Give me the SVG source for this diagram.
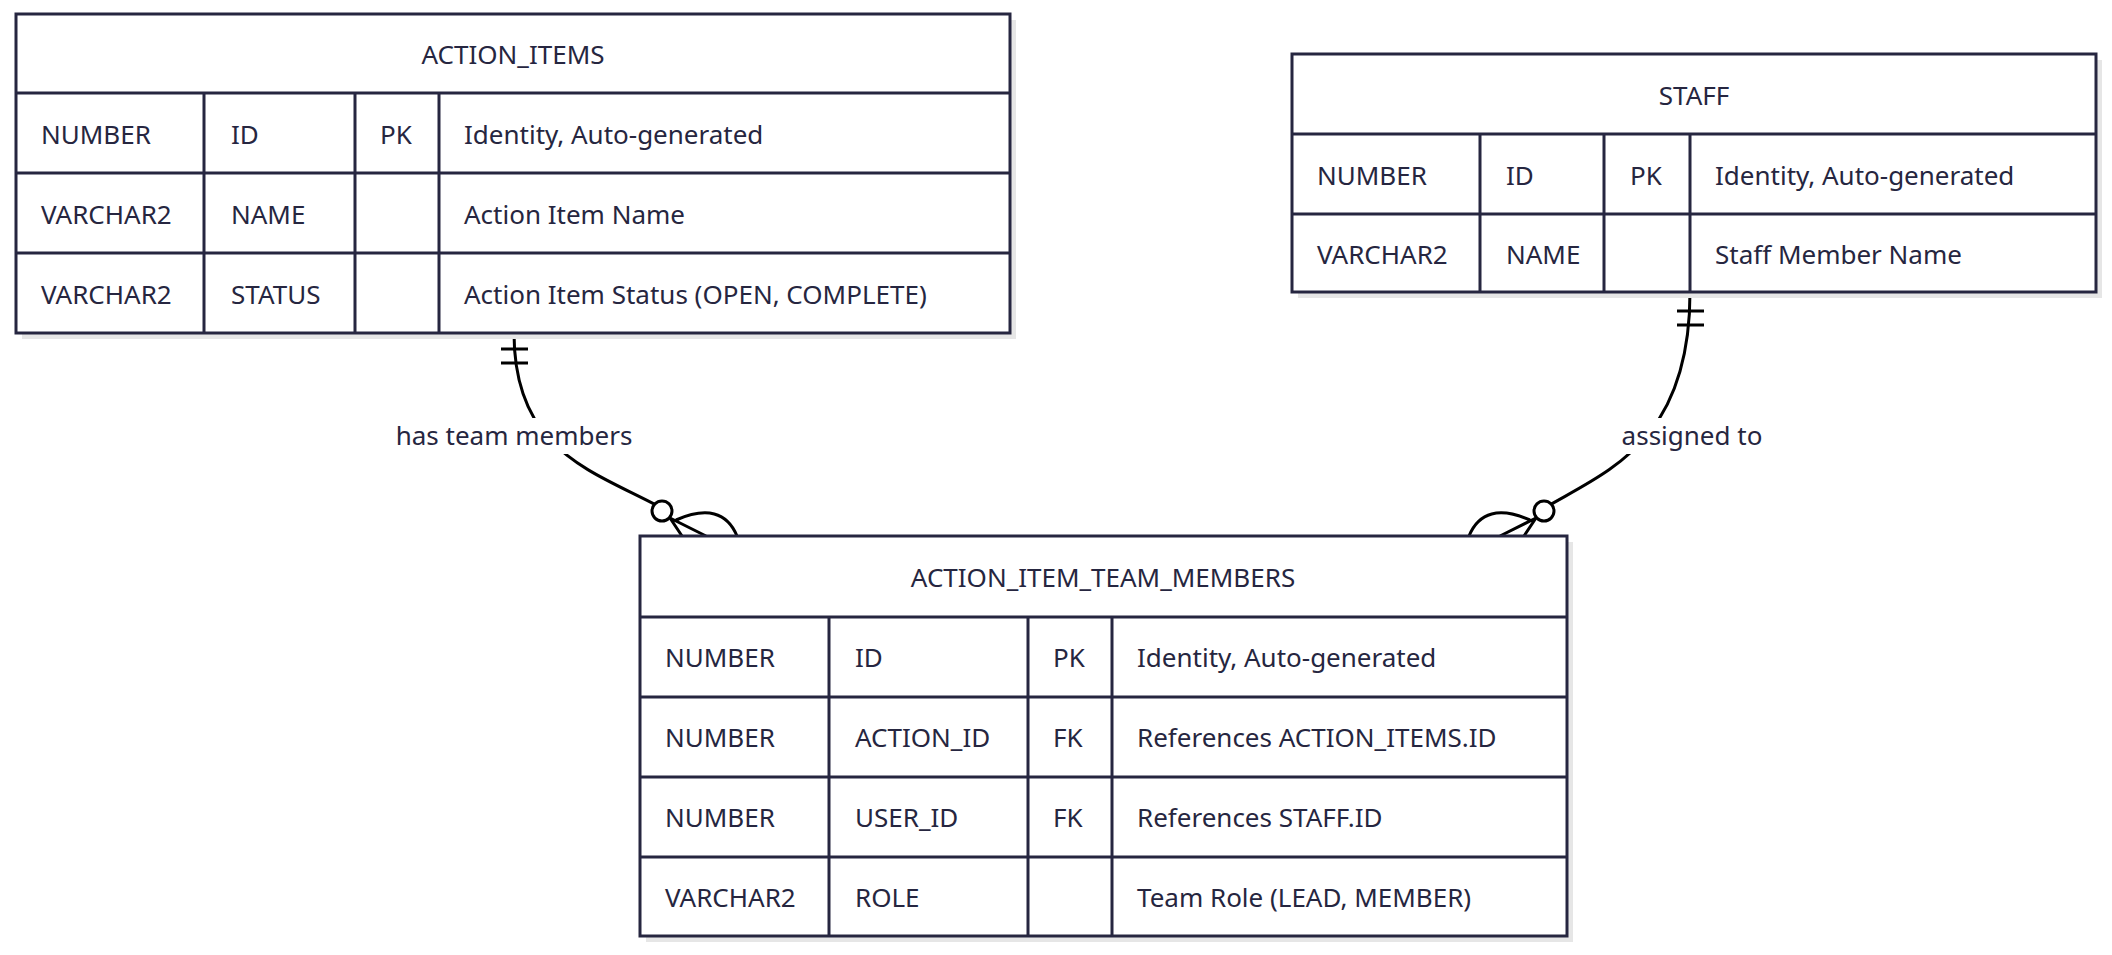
<svg xmlns="http://www.w3.org/2000/svg" width="2112" height="955" viewBox="0 0 2112 955">
<style>
.sh{fill:#e6e6e6}
.bx{fill:#fff;stroke:#262640;stroke-width:3}
.ln{stroke:#262640;stroke-width:3}
text{font-family:"Noto Sans","DejaVu Sans",sans-serif;font-size:26px;fill:#262640;dominant-baseline:central}
.h{text-anchor:middle}
.c{fill:none;stroke:#000;stroke-width:3}
.lb{text-anchor:middle}
</style>
<rect width="2112" height="955" fill="#fff"/>
<g id="connectors">
<path class="c" d="M514 333 C514 450 590 470 658 506"/>
<path class="c" d="M501 349 H528 M501 363 H528"/>
<circle cx="662" cy="511" r="10" fill="#fff" stroke="#000" stroke-width="3"/>
<path class="c" d="M670 518 L682 536 M670 518 L706 536 M676 520 Q722 500 737 536"/>
<rect x="378" y="418" width="272" height="36" fill="#fff"/>
<text class="lb" x="514" y="435">has team members</text>
<path class="c" d="M1690 292 C1690 440 1610 470 1548 506"/>
<path class="c" d="M1677 311 H1704 M1677 325 H1704"/>
<circle cx="1544" cy="511" r="10" fill="#fff" stroke="#000" stroke-width="3"/>
<path class="c" d="M1536 518 L1524 536 M1536 518 L1500 536 M1530 520 Q1484 500 1469 536"/>
<rect x="1604" y="418" width="176" height="36" fill="#fff"/>
<text class="lb" x="1692" y="435">assigned to</text>
</g>
<g id="action_items">
<rect class="sh" x="22" y="20" width="994" height="319"/>
<rect class="bx" x="16" y="14" width="994" height="319"/>
<path class="ln" d="M16 93 H1010 M16 173 H1010 M16 253 H1010 M204 93 V333 M355 93 V333 M439 93 V333"/>
<text class="h" x="513" y="54">ACTION_ITEMS</text>
<text x="41" y="134">NUMBER</text><text x="231" y="134">ID</text><text x="380" y="134">PK</text><text x="464" y="134">Identity, Auto-generated</text>
<text x="41" y="214">VARCHAR2</text><text x="231" y="214">NAME</text><text x="464" y="214">Action Item Name</text>
<text x="41" y="294">VARCHAR2</text><text x="231" y="294">STATUS</text><text x="464" y="294">Action Item Status (OPEN, COMPLETE)</text>
</g>
<g id="staff">
<rect class="sh" x="1298" y="60" width="804" height="238"/>
<rect class="bx" x="1292" y="54" width="804" height="238"/>
<path class="ln" d="M1292 134 H2096 M1292 214 H2096 M1480 134 V292 M1604 134 V292 M1690 134 V292"/>
<text class="h" x="1694" y="95">STAFF</text>
<text x="1317" y="175">NUMBER</text><text x="1506" y="175">ID</text><text x="1630" y="175">PK</text><text x="1715" y="175">Identity, Auto-generated</text>
<text x="1317" y="254">VARCHAR2</text><text x="1506" y="254">NAME</text><text x="1715" y="254">Staff Member Name</text>
</g>
<g id="action_item_team_members">
<rect class="sh" x="646" y="542" width="927" height="400"/>
<rect class="bx" x="640" y="536" width="927" height="400"/>
<path class="ln" d="M640 617 H1567 M640 697 H1567 M640 777 H1567 M640 857 H1567 M829 617 V936 M1028 617 V936 M1112 617 V936"/>
<text class="h" x="1103" y="577">ACTION_ITEM_TEAM_MEMBERS</text>
<text x="665" y="657">NUMBER</text><text x="855" y="657">ID</text><text x="1053" y="657">PK</text><text x="1137" y="657">Identity, Auto-generated</text>
<text x="665" y="737">NUMBER</text><text x="855" y="737">ACTION_ID</text><text x="1053" y="737">FK</text><text x="1137" y="737">References ACTION_ITEMS.ID</text>
<text x="665" y="817">NUMBER</text><text x="855" y="817">USER_ID</text><text x="1053" y="817">FK</text><text x="1137" y="817">References STAFF.ID</text>
<text x="665" y="897">VARCHAR2</text><text x="855" y="897">ROLE</text><text x="1137" y="897">Team Role (LEAD, MEMBER)</text>
</g>
</svg>
